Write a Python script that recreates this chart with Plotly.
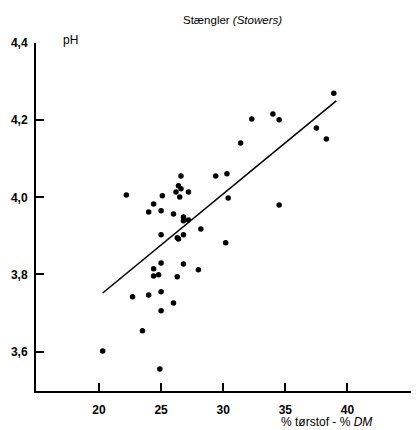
import plotly.graph_objects as go

# dry matter (%) and pH of stowers
dm = [20.3, 22.2, 22.7, 23.5, 24.0, 24.0, 24.4, 24.4, 24.4, 24.8,
      24.9, 25.0, 25.0, 25.0, 25.0, 25.0, 25.1, 26.0, 26.0, 26.2,
      26.4, 26.5, 26.6, 26.6, 27.2, 26.8, 26.8, 27.2, 26.3, 26.8,
      26.4, 26.3, 26.8, 28.0, 28.2, 29.4, 30.3, 30.4, 30.2, 31.4,
      32.3, 34.0, 34.5, 34.5, 37.5, 38.3, 38.9]
ph = [3.602, 4.006, 3.742, 3.654, 3.747, 3.962, 3.983, 3.815, 3.796, 3.799,
      3.555, 3.755, 3.706, 3.830, 3.903, 3.965, 4.004, 3.726, 3.957, 4.014,
      4.030, 4.001, 4.055, 4.022, 4.014, 3.949, 3.939, 3.941, 3.895, 3.903,
      3.892, 3.794, 3.827, 3.812, 3.918, 4.055, 4.061, 3.998, 3.882, 4.141,
      4.203, 4.216, 4.201, 3.980, 4.180, 4.151, 4.270]

# regression line end points
fit_x = [20.3, 39.1]
fit_y = [3.752, 4.250]

x_ticks = [20, 25, 30, 35, 40]
y_ticks = [3.6, 3.8, 4.0, 4.2, 4.4]

fig = go.Figure()
fig.add_trace(go.Scatter(x=fit_x, y=fit_y, mode="lines",
                         line=dict(color="black", width=1.6),
                         showlegend=False, hoverinfo="skip"))
fig.add_trace(go.Scatter(x=dm, y=ph, mode="markers",
                         marker=dict(color="black", size=5.5),
                         showlegend=False))

font_fam = "Liberation Sans, Arial, sans-serif"

# the page body has an 8px default margin; the figure is sized to compensate
fig.update_layout(
    width=411, height=422,
    margin=dict(l=28, r=0, t=35, b=39),
    plot_bgcolor="white", paper_bgcolor="white",
    separators=", ",
    font=dict(family=font_fam, color="black", size=12),
    xaxis=dict(range=[14.93, 45.76], tickvals=x_ticks, ticks="inside",
               ticklen=8, tickwidth=1.5, tickcolor="black",
               showline=True, linecolor="black", linewidth=2,
               showgrid=False, zeroline=False, automargin=False,
               tickfont=dict(family=font_fam, size=12, color="black", weight="bold"),
               ticklabelstandoff=7),
    yaxis=dict(range=[3.498, 4.4], tickvals=y_ticks, tickformat=".1f",
               ticks="inside", ticklen=8, tickwidth=1.5, tickcolor="black",
               showline=True, linecolor="black", linewidth=2,
               showgrid=False, zeroline=False, automargin=False,
               tickfont=dict(family=font_fam, size=12, color="black", weight="bold"),
               ticklabelstandoff=4),
    annotations=[
        dict(text="Stængler <i>(Stowers)</i>", xref="paper", yref="paper",
             x=0.514, y=1.066, showarrow=False, xanchor="center", yanchor="middle",
             font=dict(size=11.5)),
        dict(text="pH", xref="paper", yref="paper", x=0.065, y=1.009,
             showarrow=False, xanchor="left", yanchor="middle",
             font=dict(size=12)),
        dict(text="% tørstof - % <i>DM</i>", xref="paper", yref="paper",
             x=0.634, y=-0.089, showarrow=False, xanchor="left", yanchor="middle",
             font=dict(size=12)),
    ],
)

fig.write_html("out.html")
